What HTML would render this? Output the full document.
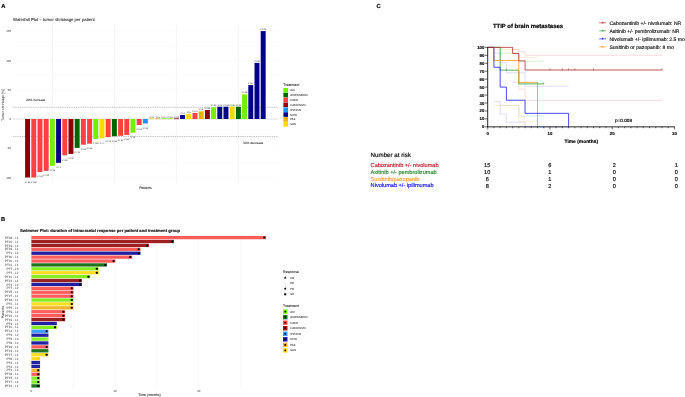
<!DOCTYPE html>
<html><head><meta charset="utf-8"><title>Figure</title>
<style>
html,body{margin:0;padding:0;background:#fff;}
body{width:685px;height:397px;overflow:hidden;font-family:"Liberation Sans", sans-serif;}
svg{display:block;will-change:transform;}
svg text{font-family:"Liberation Sans", sans-serif;text-rendering:geometricPrecision;}
</style></head>
<body>
<svg width="685" height="397" viewBox="0 0 685 397">
<rect width="685" height="397" fill="#fff"/>
<text x="1.20" y="8.10" font-size="5.8" fill="#000" stroke="#000" stroke-width="0.174" text-anchor="start" font-weight="bold" >A</text>
<text x="13.10" y="20.80" font-size="4.25" fill="#111" stroke="#111" stroke-width="0.051" text-anchor="start" font-weight="normal" >Waterfall Plot – tumor shrinkage per patient</text>
<line x1="13.0" x2="278.0" y1="31.25" y2="31.25" stroke="#f4f4f4" stroke-width="0.4"/>
<line x1="13.0" x2="278.0" y1="60.50" y2="60.50" stroke="#f4f4f4" stroke-width="0.4"/>
<line x1="13.0" x2="278.0" y1="89.75" y2="89.75" stroke="#f4f4f4" stroke-width="0.4"/>
<line x1="13.0" x2="278.0" y1="119.00" y2="119.00" stroke="#f4f4f4" stroke-width="0.4"/>
<line x1="13.0" x2="278.0" y1="148.25" y2="148.25" stroke="#f4f4f4" stroke-width="0.4"/>
<line x1="13.0" x2="278.0" y1="177.50" y2="177.50" stroke="#f4f4f4" stroke-width="0.4"/>
<line x1="13.0" x2="278.0" y1="45.88" y2="45.88" stroke="#f3f3f3" stroke-width="0.3"/>
<line x1="13.0" x2="278.0" y1="75.12" y2="75.12" stroke="#f3f3f3" stroke-width="0.3"/>
<line x1="13.0" x2="278.0" y1="104.38" y2="104.38" stroke="#f3f3f3" stroke-width="0.3"/>
<line x1="13.0" x2="278.0" y1="133.62" y2="133.62" stroke="#f3f3f3" stroke-width="0.3"/>
<line x1="13.0" x2="278.0" y1="162.88" y2="162.88" stroke="#f3f3f3" stroke-width="0.3"/>
<line x1="52.38" x2="52.38" y1="24" y2="183" stroke="#ebebeb" stroke-width="0.5"/>
<line x1="114.38" x2="114.38" y1="24" y2="183" stroke="#ebebeb" stroke-width="0.5"/>
<line x1="176.38" x2="176.38" y1="24" y2="183" stroke="#ebebeb" stroke-width="0.5"/>
<line x1="238.38" x2="238.38" y1="24" y2="183" stroke="#ebebeb" stroke-width="0.5"/>
<line x1="13.0" x2="278.0" y1="119.0" y2="119.0" stroke="#cfcfcf" stroke-width="0.6"/>
<line x1="13.0" x2="278.0" y1="107.30" y2="107.30" stroke="#555" stroke-width="0.45" stroke-dasharray="0.9 0.9"/>
<line x1="13.0" x2="278.0" y1="136.55" y2="136.55" stroke="#555" stroke-width="0.45" stroke-dasharray="0.9 0.9"/>
<rect x="25.10" y="119.00" width="4.95" height="58.50" fill="#8B0000"/>
<text x="27.58" y="182.80" font-size="2.3" fill="#444" stroke="#444" stroke-width="0.028" text-anchor="middle" font-weight="normal" >PT26</text>
<rect x="31.30" y="119.00" width="4.95" height="58.50" fill="#FF4040"/>
<text x="33.77" y="182.80" font-size="2.3" fill="#444" stroke="#444" stroke-width="0.028" text-anchor="middle" font-weight="normal" >PT28</text>
<rect x="37.50" y="119.00" width="4.95" height="53.10" fill="#FF4040"/>
<text x="39.98" y="177.40" font-size="2.3" fill="#444" stroke="#444" stroke-width="0.028" text-anchor="middle" font-weight="normal" >PT23</text>
<rect x="43.70" y="119.00" width="4.95" height="51.90" fill="#FF4040"/>
<text x="46.18" y="176.20" font-size="2.3" fill="#444" stroke="#444" stroke-width="0.028" text-anchor="middle" font-weight="normal" >PT30</text>
<rect x="49.90" y="119.00" width="4.95" height="46.80" fill="#76EE00"/>
<text x="52.38" y="171.10" font-size="2.3" fill="#444" stroke="#444" stroke-width="0.028" text-anchor="middle" font-weight="normal" >PT16</text>
<rect x="56.10" y="119.00" width="4.95" height="43.80" fill="#00008B"/>
<text x="58.58" y="168.10" font-size="2.3" fill="#444" stroke="#444" stroke-width="0.028" text-anchor="middle" font-weight="normal" >PT1</text>
<rect x="62.30" y="119.00" width="4.95" height="36.30" fill="#FF4040"/>
<text x="64.78" y="160.60" font-size="2.3" fill="#444" stroke="#444" stroke-width="0.028" text-anchor="middle" font-weight="normal" >PT29</text>
<rect x="68.50" y="119.00" width="4.95" height="34.90" fill="#8B0000"/>
<text x="70.97" y="159.20" font-size="2.3" fill="#444" stroke="#444" stroke-width="0.028" text-anchor="middle" font-weight="normal" >PT20</text>
<rect x="74.70" y="119.00" width="4.95" height="28.90" fill="#006400"/>
<text x="77.17" y="153.20" font-size="2.3" fill="#444" stroke="#444" stroke-width="0.028" text-anchor="middle" font-weight="normal" >PT11</text>
<rect x="80.90" y="119.00" width="4.95" height="25.70" fill="#FF4040"/>
<text x="83.38" y="150.00" font-size="2.3" fill="#444" stroke="#444" stroke-width="0.028" text-anchor="middle" font-weight="normal" >PT24</text>
<rect x="87.10" y="119.00" width="4.95" height="24.70" fill="#FF4040"/>
<text x="89.57" y="149.00" font-size="2.3" fill="#444" stroke="#444" stroke-width="0.028" text-anchor="middle" font-weight="normal" >PT25</text>
<rect x="93.30" y="119.00" width="4.95" height="20.10" fill="#76EE00"/>
<text x="95.78" y="144.40" font-size="2.3" fill="#444" stroke="#444" stroke-width="0.028" text-anchor="middle" font-weight="normal" >PT18</text>
<rect x="99.50" y="119.00" width="4.95" height="19.30" fill="#FFD700"/>
<text x="101.97" y="143.60" font-size="2.3" fill="#444" stroke="#444" stroke-width="0.028" text-anchor="middle" font-weight="normal" >PT7</text>
<rect x="105.70" y="119.00" width="4.95" height="18.10" fill="#FF4040"/>
<text x="108.18" y="142.40" font-size="2.3" fill="#444" stroke="#444" stroke-width="0.028" text-anchor="middle" font-weight="normal" >PT31</text>
<rect x="111.90" y="119.00" width="4.95" height="17.20" fill="#006400"/>
<text x="114.38" y="141.50" font-size="2.3" fill="#444" stroke="#444" stroke-width="0.028" text-anchor="middle" font-weight="normal" >PT13</text>
<rect x="118.10" y="119.00" width="4.95" height="16.80" fill="#FF4040"/>
<text x="120.57" y="141.10" font-size="2.3" fill="#444" stroke="#444" stroke-width="0.028" text-anchor="middle" font-weight="normal" >PT32</text>
<rect x="124.30" y="119.00" width="4.95" height="15.90" fill="#FF4040"/>
<text x="126.78" y="140.20" font-size="2.3" fill="#444" stroke="#444" stroke-width="0.028" text-anchor="middle" font-weight="normal" >PT22</text>
<rect x="130.50" y="119.00" width="4.95" height="13.70" fill="#76EE00"/>
<text x="132.97" y="138.00" font-size="2.3" fill="#444" stroke="#444" stroke-width="0.028" text-anchor="middle" font-weight="normal" >PT9</text>
<rect x="136.70" y="119.00" width="4.95" height="6.00" fill="#FF4040"/>
<text x="139.18" y="130.30" font-size="2.3" fill="#444" stroke="#444" stroke-width="0.028" text-anchor="middle" font-weight="normal" >PT33</text>
<rect x="142.90" y="119.00" width="4.95" height="4.50" fill="#1E90FF"/>
<text x="145.38" y="128.80" font-size="2.3" fill="#444" stroke="#444" stroke-width="0.028" text-anchor="middle" font-weight="normal" >PT14</text>
<rect x="149.10" y="118.40" width="4.95" height="0.70" fill="#FFD700"/>
<text x="151.57" y="117.80" font-size="2.3" fill="#444" stroke="#444" stroke-width="0.028" text-anchor="middle" font-weight="normal" >PT8</text>
<rect x="155.30" y="118.40" width="4.95" height="0.70" fill="#EEAD0E"/>
<text x="157.78" y="117.80" font-size="2.3" fill="#444" stroke="#444" stroke-width="0.028" text-anchor="middle" font-weight="normal" >PT5</text>
<rect x="161.50" y="118.40" width="4.95" height="0.70" fill="#76EE00"/>
<text x="163.97" y="117.80" font-size="2.3" fill="#444" stroke="#444" stroke-width="0.028" text-anchor="middle" font-weight="normal" >PT17</text>
<rect x="167.70" y="118.40" width="4.95" height="0.70" fill="#76EE00"/>
<text x="170.17" y="117.80" font-size="2.3" fill="#444" stroke="#444" stroke-width="0.028" text-anchor="middle" font-weight="normal" >PT15</text>
<rect x="173.90" y="118.40" width="4.95" height="0.70" fill="#8B0000"/>
<text x="176.38" y="117.80" font-size="2.3" fill="#444" stroke="#444" stroke-width="0.028" text-anchor="middle" font-weight="normal" >PT21</text>
<rect x="180.10" y="115.00" width="4.95" height="4.00" fill="#00008B"/>
<text x="182.57" y="113.80" font-size="2.3" fill="#444" stroke="#444" stroke-width="0.028" text-anchor="middle" font-weight="normal" >PT2</text>
<rect x="186.30" y="114.00" width="4.95" height="5.00" fill="#FFD700"/>
<text x="188.78" y="112.80" font-size="2.3" fill="#444" stroke="#444" stroke-width="0.028" text-anchor="middle" font-weight="normal" >PT6</text>
<rect x="192.50" y="113.00" width="4.95" height="6.00" fill="#FF4040"/>
<text x="194.97" y="111.80" font-size="2.3" fill="#444" stroke="#444" stroke-width="0.028" text-anchor="middle" font-weight="normal" >PT27</text>
<rect x="198.70" y="111.40" width="4.95" height="7.60" fill="#EEAD0E"/>
<text x="201.17" y="110.20" font-size="2.3" fill="#444" stroke="#444" stroke-width="0.028" text-anchor="middle" font-weight="normal" >PT4</text>
<rect x="204.90" y="110.00" width="4.95" height="9.00" fill="#8B0000"/>
<text x="207.38" y="108.80" font-size="2.3" fill="#444" stroke="#444" stroke-width="0.028" text-anchor="middle" font-weight="normal" >PT19</text>
<rect x="211.10" y="107.30" width="4.95" height="11.70" fill="#76EE00"/>
<text x="213.57" y="106.10" font-size="2.3" fill="#444" stroke="#444" stroke-width="0.028" text-anchor="middle" font-weight="normal" >PT10</text>
<rect x="217.30" y="106.70" width="4.95" height="12.30" fill="#00008B"/>
<text x="219.78" y="105.50" font-size="2.3" fill="#444" stroke="#444" stroke-width="0.028" text-anchor="middle" font-weight="normal" >PT3</text>
<rect x="223.50" y="106.70" width="4.95" height="12.30" fill="#00008B"/>
<text x="225.97" y="105.50" font-size="2.3" fill="#444" stroke="#444" stroke-width="0.028" text-anchor="middle" font-weight="normal" >PT34</text>
<rect x="229.70" y="106.70" width="4.95" height="12.30" fill="#FFD700"/>
<text x="232.17" y="105.50" font-size="2.3" fill="#444" stroke="#444" stroke-width="0.028" text-anchor="middle" font-weight="normal" >PT35</text>
<rect x="235.90" y="106.70" width="4.95" height="12.30" fill="#006400"/>
<text x="238.38" y="105.50" font-size="2.3" fill="#444" stroke="#444" stroke-width="0.028" text-anchor="middle" font-weight="normal" >PT12</text>
<rect x="242.10" y="94.30" width="4.95" height="24.70" fill="#76EE00"/>
<text x="244.57" y="93.10" font-size="2.3" fill="#444" stroke="#444" stroke-width="0.028" text-anchor="middle" font-weight="normal" >PT36</text>
<rect x="248.30" y="85.10" width="4.95" height="33.90" fill="#00008B"/>
<text x="250.78" y="83.90" font-size="2.3" fill="#444" stroke="#444" stroke-width="0.028" text-anchor="middle" font-weight="normal" >PT37</text>
<rect x="254.50" y="62.90" width="4.95" height="56.10" fill="#00008B"/>
<text x="256.98" y="61.70" font-size="2.3" fill="#444" stroke="#444" stroke-width="0.028" text-anchor="middle" font-weight="normal" >PT38</text>
<rect x="260.70" y="31.10" width="4.95" height="87.90" fill="#00008B"/>
<text x="263.18" y="29.90" font-size="2.3" fill="#444" stroke="#444" stroke-width="0.028" text-anchor="middle" font-weight="normal" >PT39</text>
<text x="11.00" y="32.25" font-size="2.9" fill="#4d4d4d" stroke="#4d4d4d" stroke-width="0.035" text-anchor="end" font-weight="normal" >150</text>
<text x="11.00" y="61.50" font-size="2.9" fill="#4d4d4d" stroke="#4d4d4d" stroke-width="0.035" text-anchor="end" font-weight="normal" >100</text>
<text x="11.00" y="90.75" font-size="2.9" fill="#4d4d4d" stroke="#4d4d4d" stroke-width="0.035" text-anchor="end" font-weight="normal" >50</text>
<text x="11.00" y="120.00" font-size="2.9" fill="#4d4d4d" stroke="#4d4d4d" stroke-width="0.035" text-anchor="end" font-weight="normal" >0</text>
<text x="11.00" y="149.25" font-size="2.9" fill="#4d4d4d" stroke="#4d4d4d" stroke-width="0.035" text-anchor="end" font-weight="normal" >-50</text>
<text x="11.00" y="178.50" font-size="2.9" fill="#4d4d4d" stroke="#4d4d4d" stroke-width="0.035" text-anchor="end" font-weight="normal" >-100</text>
<text transform="translate(4.3,105) rotate(-90)" font-size="3.5" fill="#222" text-anchor="middle">Tumor shrinkage [%]</text>
<text x="145.50" y="188.70" font-size="3.5" fill="#222" stroke="#222" stroke-width="0.042" text-anchor="middle" font-weight="normal" >Patients</text>
<text x="26.00" y="101.20" font-size="3.2" fill="#222" stroke="#222" stroke-width="0.038" text-anchor="start" font-weight="normal" >20% increase</text>
<text x="243.00" y="144.30" font-size="3.2" fill="#222" stroke="#222" stroke-width="0.038" text-anchor="start" font-weight="normal" >30% decrease</text>
<text x="283.30" y="85.60" font-size="3.5" fill="#111" stroke="#111" stroke-width="0.042" text-anchor="start" font-weight="normal" >Treatment</text>
<rect x="283.4" y="88.00" width="4.6" height="4.6" fill="#76EE00"/>
<text x="290.20" y="91.30" font-size="2.8" fill="#222" stroke="#222" stroke-width="0.034" text-anchor="start" font-weight="normal" >AXI</text>
<rect x="283.4" y="92.85" width="4.6" height="4.6" fill="#006400"/>
<text x="290.20" y="96.15" font-size="2.8" fill="#222" stroke="#222" stroke-width="0.034" text-anchor="start" font-weight="normal" >AXI/PEMBRO</text>
<rect x="283.4" y="97.70" width="4.6" height="4.6" fill="#FF4040"/>
<text x="290.20" y="101.00" font-size="2.8" fill="#222" stroke="#222" stroke-width="0.034" text-anchor="start" font-weight="normal" >CABO</text>
<rect x="283.4" y="102.55" width="4.6" height="4.6" fill="#8B0000"/>
<text x="290.20" y="105.85" font-size="2.8" fill="#222" stroke="#222" stroke-width="0.034" text-anchor="start" font-weight="normal" >CABO/NIVO</text>
<rect x="283.4" y="107.40" width="4.6" height="4.6" fill="#1E90FF"/>
<text x="290.20" y="110.70" font-size="2.8" fill="#222" stroke="#222" stroke-width="0.034" text-anchor="start" font-weight="normal" >IPI/NIVO</text>
<rect x="283.4" y="112.25" width="4.6" height="4.6" fill="#00008B"/>
<text x="290.20" y="115.55" font-size="2.8" fill="#222" stroke="#222" stroke-width="0.034" text-anchor="start" font-weight="normal" >NIVO</text>
<rect x="283.4" y="117.10" width="4.6" height="4.6" fill="#EEAD0E"/>
<text x="290.20" y="120.40" font-size="2.8" fill="#222" stroke="#222" stroke-width="0.034" text-anchor="start" font-weight="normal" >PAZ</text>
<rect x="283.4" y="121.95" width="4.6" height="4.6" fill="#FFD700"/>
<text x="290.20" y="125.25" font-size="2.8" fill="#222" stroke="#222" stroke-width="0.034" text-anchor="start" font-weight="normal" >SUN</text>
<text x="0.90" y="221.10" font-size="5.8" fill="#000" stroke="#000" stroke-width="0.174" text-anchor="start" font-weight="bold" >B</text>
<text x="20.00" y="232.20" font-size="4.2" fill="#111" stroke="#111" stroke-width="0.126" text-anchor="start" font-weight="bold" >Swimmer Plot: duration of intracranial response per patient and treatment group</text>
<line x1="31.40" x2="31.40" y1="234.5" y2="389" stroke="#ebebeb" stroke-width="0.45"/>
<line x1="73.25" x2="73.25" y1="234.5" y2="389" stroke="#ebebeb" stroke-width="0.45"/>
<line x1="115.10" x2="115.10" y1="234.5" y2="389" stroke="#ebebeb" stroke-width="0.45"/>
<line x1="156.95" x2="156.95" y1="234.5" y2="389" stroke="#ebebeb" stroke-width="0.45"/>
<line x1="198.80" x2="198.80" y1="234.5" y2="389" stroke="#ebebeb" stroke-width="0.45"/>
<line x1="240.65" x2="240.65" y1="234.5" y2="389" stroke="#ebebeb" stroke-width="0.45"/>
<rect x="31.40" y="235.95" width="234.66" height="3.3" fill="#FF5c5c"/>
<rect x="263.26" y="236.60" width="2.0" height="2.0" rx="0.5" fill="#000"/>
<text x="18.40" y="238.70" font-size="3.1" fill="#555" stroke="#555" stroke-width="0.037" text-anchor="end" font-weight="normal" >PT28 - L1</text>
<rect x="31.40" y="239.85" width="142.59" height="3.3" fill="#9c2020"/>
<rect x="171.19" y="240.50" width="2.0" height="2.0" rx="0.5" fill="#000"/>
<text x="18.40" y="242.60" font-size="3.1" fill="#555" stroke="#555" stroke-width="0.037" text-anchor="end" font-weight="normal" >PT20 - L1</text>
<rect x="31.40" y="243.76" width="117.48" height="3.3" fill="#9c2020"/>
<rect x="146.08" y="244.41" width="2.0" height="2.0" rx="0.5" fill="#000"/>
<text x="18.40" y="246.51" font-size="3.1" fill="#555" stroke="#555" stroke-width="0.037" text-anchor="end" font-weight="normal" >PT19 - L2</text>
<rect x="31.40" y="247.66" width="109.11" height="3.3" fill="#FF5c5c"/>
<rect x="137.71" y="248.31" width="2.0" height="2.0" rx="0.5" fill="#000"/>
<text x="18.40" y="250.41" font-size="3.1" fill="#555" stroke="#555" stroke-width="0.037" text-anchor="end" font-weight="normal" >PT23 - L1</text>
<rect x="31.40" y="251.56" width="109.11" height="3.3" fill="#2020a0"/>
<rect x="137.71" y="252.21" width="2.0" height="2.0" rx="0.5" fill="#000"/>
<text x="18.40" y="254.31" font-size="3.1" fill="#555" stroke="#555" stroke-width="0.037" text-anchor="end" font-weight="normal" >PT1 - L2</text>
<rect x="31.40" y="255.47" width="100.74" height="3.3" fill="#FF5c5c"/>
<rect x="129.34" y="256.12" width="2.0" height="2.0" rx="0.5" fill="#000"/>
<text x="18.40" y="258.22" font-size="3.1" fill="#555" stroke="#555" stroke-width="0.037" text-anchor="end" font-weight="normal" >PT30 - L1</text>
<rect x="31.40" y="259.37" width="84.00" height="3.3" fill="#FF5c5c"/>
<rect x="112.60" y="260.02" width="2.0" height="2.0" rx="0.5" fill="#000"/>
<text x="18.40" y="262.12" font-size="3.1" fill="#555" stroke="#555" stroke-width="0.037" text-anchor="end" font-weight="normal" >PT26 - L1</text>
<rect x="31.40" y="263.27" width="75.63" height="3.3" fill="#1f7320"/>
<rect x="104.23" y="263.92" width="2.0" height="2.0" rx="0.5" fill="#000"/>
<text x="18.40" y="266.02" font-size="3.1" fill="#555" stroke="#555" stroke-width="0.037" text-anchor="end" font-weight="normal" >PT11 - L1</text>
<rect x="31.40" y="267.17" width="67.26" height="3.3" fill="#84EE22"/>
<rect x="95.86" y="267.82" width="2.0" height="2.0" rx="0.5" fill="#000"/>
<text x="18.40" y="269.92" font-size="3.1" fill="#555" stroke="#555" stroke-width="0.037" text-anchor="end" font-weight="normal" >PT7 - L3</text>
<rect x="31.40" y="271.08" width="67.26" height="3.3" fill="#ffdc22"/>
<rect x="95.86" y="271.73" width="2.0" height="2.0" rx="0.5" fill="#000"/>
<text x="18.40" y="273.83" font-size="3.1" fill="#555" stroke="#555" stroke-width="0.037" text-anchor="end" font-weight="normal" >PT7 - L2</text>
<rect x="31.40" y="274.98" width="58.89" height="3.3" fill="#84EE22"/>
<rect x="87.49" y="275.63" width="2.0" height="2.0" rx="0.5" fill="#000"/>
<text x="18.40" y="277.73" font-size="3.1" fill="#555" stroke="#555" stroke-width="0.037" text-anchor="end" font-weight="normal" >PT16 - L1</text>
<rect x="31.40" y="278.88" width="50.52" height="3.3" fill="#9c2020"/>
<rect x="79.12" y="279.53" width="2.0" height="2.0" rx="0.5" fill="#000"/>
<text x="18.40" y="281.63" font-size="3.1" fill="#555" stroke="#555" stroke-width="0.037" text-anchor="end" font-weight="normal" >PT21 - L1</text>
<rect x="31.40" y="282.79" width="50.52" height="3.3" fill="#2020a0"/>
<rect x="79.12" y="283.44" width="2.0" height="2.0" rx="0.5" fill="#000"/>
<text x="18.40" y="285.54" font-size="3.1" fill="#555" stroke="#555" stroke-width="0.037" text-anchor="end" font-weight="normal" >PT2 - L2</text>
<rect x="31.40" y="286.69" width="42.15" height="3.3" fill="#FF5c5c"/>
<rect x="70.75" y="287.34" width="2.0" height="2.0" rx="0.5" fill="#000"/>
<text x="18.40" y="289.44" font-size="3.1" fill="#555" stroke="#555" stroke-width="0.037" text-anchor="end" font-weight="normal" >PT7 - L2</text>
<rect x="31.40" y="290.59" width="42.15" height="3.3" fill="#FF5c5c"/>
<rect x="70.75" y="291.24" width="2.0" height="2.0" rx="0.5" fill="#000"/>
<text x="18.40" y="293.34" font-size="3.1" fill="#555" stroke="#555" stroke-width="0.037" text-anchor="end" font-weight="normal" >PT25 - L1</text>
<rect x="31.40" y="294.50" width="42.15" height="3.3" fill="#FF5c5c"/>
<rect x="70.75" y="295.14" width="2.0" height="2.0" rx="0.5" fill="#000"/>
<text x="18.40" y="297.25" font-size="3.1" fill="#555" stroke="#555" stroke-width="0.037" text-anchor="end" font-weight="normal" >PT27 - L1</text>
<rect x="31.40" y="298.40" width="42.15" height="3.3" fill="#84EE22"/>
<rect x="70.75" y="299.05" width="2.0" height="2.0" rx="0.5" fill="#000"/>
<text x="18.40" y="301.15" font-size="3.1" fill="#555" stroke="#555" stroke-width="0.037" text-anchor="end" font-weight="normal" >PT18 - L1</text>
<rect x="31.40" y="302.30" width="42.15" height="3.3" fill="#ffdc22"/>
<rect x="70.75" y="302.95" width="2.0" height="2.0" rx="0.5" fill="#000"/>
<text x="18.40" y="305.05" font-size="3.1" fill="#555" stroke="#555" stroke-width="0.037" text-anchor="end" font-weight="normal" >PT6 - L1</text>
<rect x="31.40" y="306.20" width="42.15" height="3.3" fill="#f0b52c"/>
<rect x="70.75" y="306.85" width="2.0" height="2.0" rx="0.5" fill="#000"/>
<text x="18.40" y="308.95" font-size="3.1" fill="#555" stroke="#555" stroke-width="0.037" text-anchor="end" font-weight="normal" >PT5 - L1</text>
<rect x="31.40" y="310.11" width="33.78" height="3.3" fill="#FF5c5c"/>
<rect x="62.38" y="310.76" width="2.0" height="2.0" rx="0.5" fill="#000"/>
<text x="18.40" y="312.86" font-size="3.1" fill="#555" stroke="#555" stroke-width="0.037" text-anchor="end" font-weight="normal" >PT9 - L2</text>
<rect x="31.40" y="314.01" width="33.78" height="3.3" fill="#FF5c5c"/>
<rect x="62.38" y="314.66" width="2.0" height="2.0" rx="0.5" fill="#000"/>
<text x="18.40" y="316.76" font-size="3.1" fill="#555" stroke="#555" stroke-width="0.037" text-anchor="end" font-weight="normal" >PT22 - L1</text>
<rect x="31.40" y="317.91" width="33.78" height="3.3" fill="#9c2020"/>
<rect x="62.38" y="318.56" width="2.0" height="2.0" rx="0.5" fill="#000"/>
<text x="18.40" y="320.66" font-size="3.1" fill="#555" stroke="#555" stroke-width="0.037" text-anchor="end" font-weight="normal" >PT19 - L1</text>
<rect x="31.40" y="321.82" width="25.41" height="3.3" fill="#2020a0"/>
<path d="M54.11 322.57 L55.91 324.37 M54.11 324.37 L55.91 322.57" stroke="#4a4ab4" stroke-width="0.4" fill="none"/>
<text x="18.40" y="324.57" font-size="3.1" fill="#555" stroke="#555" stroke-width="0.037" text-anchor="end" font-weight="normal" >PT3 - L1</text>
<rect x="31.40" y="325.72" width="25.41" height="3.3" fill="#84EE22"/>
<rect x="54.01" y="326.37" width="2.0" height="2.0" rx="0.5" fill="#000"/>
<text x="18.40" y="328.47" font-size="3.1" fill="#555" stroke="#555" stroke-width="0.037" text-anchor="end" font-weight="normal" >PT10 - L1</text>
<rect x="31.40" y="329.62" width="17.04" height="3.3" fill="#3c9cff"/>
<rect x="45.64" y="330.27" width="2.0" height="2.0" rx="0.5" fill="#000"/>
<text x="18.40" y="332.37" font-size="3.1" fill="#555" stroke="#555" stroke-width="0.037" text-anchor="end" font-weight="normal" >PT14 - L1</text>
<rect x="31.40" y="333.53" width="17.04" height="3.3" fill="#2020a0"/>
<path d="M45.74 334.28 L47.54 336.07 M45.74 336.07 L47.54 334.28" stroke="#4a4ab4" stroke-width="0.4" fill="none"/>
<text x="18.40" y="336.28" font-size="3.1" fill="#555" stroke="#555" stroke-width="0.037" text-anchor="end" font-weight="normal" >PT3 - L2</text>
<rect x="31.40" y="337.43" width="17.04" height="3.3" fill="#84EE22"/>
<path d="M45.74 338.18 L47.54 339.98 M45.74 339.98 L47.54 338.18" stroke="#c8eaa0" stroke-width="0.4" fill="none"/>
<text x="18.40" y="340.18" font-size="3.1" fill="#555" stroke="#555" stroke-width="0.037" text-anchor="end" font-weight="normal" >PT9 - L3</text>
<rect x="31.40" y="341.33" width="17.04" height="3.3" fill="#2020a0"/>
<path d="M45.74 342.08 L47.54 343.88 M45.74 343.88 L47.54 342.08" stroke="#4a4ab4" stroke-width="0.4" fill="none"/>
<text x="18.40" y="344.08" font-size="3.1" fill="#555" stroke="#555" stroke-width="0.037" text-anchor="end" font-weight="normal" >PT8 - L2</text>
<rect x="31.40" y="345.23" width="17.04" height="3.3" fill="#FF5c5c"/>
<rect x="45.64" y="345.88" width="2.0" height="2.0" rx="0.5" fill="#000"/>
<text x="18.40" y="347.98" font-size="3.1" fill="#555" stroke="#555" stroke-width="0.037" text-anchor="end" font-weight="normal" >PT29 - L1</text>
<rect x="31.40" y="349.14" width="17.04" height="3.3" fill="#1f7320"/>
<path d="M45.74 349.89 L47.54 351.69 M45.74 351.69 L47.54 349.89" stroke="#4a8c4a" stroke-width="0.4" fill="none"/>
<text x="18.40" y="351.89" font-size="3.1" fill="#555" stroke="#555" stroke-width="0.037" text-anchor="end" font-weight="normal" >PT13 - L1</text>
<rect x="31.40" y="353.04" width="17.04" height="3.3" fill="#ffdc22"/>
<rect x="45.64" y="353.69" width="2.0" height="2.0" rx="0.5" fill="#000"/>
<text x="18.40" y="355.79" font-size="3.1" fill="#555" stroke="#555" stroke-width="0.037" text-anchor="end" font-weight="normal" >PT17 - L1</text>
<rect x="31.40" y="356.94" width="8.67" height="3.3" fill="#ffdc22"/>
<path d="M37.37 357.69 L39.17 359.49 M37.37 359.49 L39.17 357.69" stroke="#c8a800" stroke-width="0.4" fill="none"/>
<text x="18.40" y="359.69" font-size="3.1" fill="#555" stroke="#555" stroke-width="0.037" text-anchor="end" font-weight="normal" >PT8 - L1</text>
<rect x="31.40" y="360.85" width="8.67" height="3.3" fill="#2020a0"/>
<path d="M37.37 361.60 L39.17 363.40 M37.37 363.40 L39.17 361.60" stroke="#4a4ab4" stroke-width="0.4" fill="none"/>
<text x="18.40" y="363.60" font-size="3.1" fill="#555" stroke="#555" stroke-width="0.037" text-anchor="end" font-weight="normal" >PT2 - L1</text>
<rect x="31.40" y="364.75" width="8.67" height="3.3" fill="#2020a0"/>
<path d="M37.37 365.50 L39.17 367.30 M37.37 367.30 L39.17 365.50" stroke="#4a4ab4" stroke-width="0.4" fill="none"/>
<text x="18.40" y="367.50" font-size="3.1" fill="#555" stroke="#555" stroke-width="0.037" text-anchor="end" font-weight="normal" >PT4 - L1</text>
<rect x="31.40" y="368.65" width="8.67" height="3.3" fill="#f0b52c"/>
<rect x="37.27" y="369.30" width="2.0" height="2.0" rx="0.5" fill="#000"/>
<text x="18.40" y="371.40" font-size="3.1" fill="#555" stroke="#555" stroke-width="0.037" text-anchor="end" font-weight="normal" >PT4 - L2</text>
<rect x="31.40" y="372.56" width="8.67" height="3.3" fill="#FF5c5c"/>
<rect x="37.27" y="373.20" width="2.0" height="2.0" rx="0.5" fill="#000"/>
<text x="18.40" y="375.31" font-size="3.1" fill="#555" stroke="#555" stroke-width="0.037" text-anchor="end" font-weight="normal" >PT32 - L1</text>
<rect x="31.40" y="376.46" width="8.67" height="3.3" fill="#84EE22"/>
<rect x="37.27" y="377.11" width="2.0" height="2.0" rx="0.5" fill="#000"/>
<text x="18.40" y="379.21" font-size="3.1" fill="#555" stroke="#555" stroke-width="0.037" text-anchor="end" font-weight="normal" >PT15 - L1</text>
<rect x="31.40" y="380.36" width="8.67" height="3.3" fill="#84EE22"/>
<rect x="37.27" y="381.01" width="2.0" height="2.0" rx="0.5" fill="#000"/>
<text x="18.40" y="383.11" font-size="3.1" fill="#555" stroke="#555" stroke-width="0.037" text-anchor="end" font-weight="normal" >PT17 - L2</text>
<rect x="31.40" y="384.26" width="8.67" height="3.3" fill="#1f7320"/>
<rect x="37.27" y="384.91" width="2.0" height="2.0" rx="0.5" fill="#000"/>
<text x="18.40" y="387.01" font-size="3.1" fill="#555" stroke="#555" stroke-width="0.037" text-anchor="end" font-weight="normal" >PT12 - L1</text>
<text x="31.40" y="392.00" font-size="2.9" fill="#4d4d4d" stroke="#4d4d4d" stroke-width="0.035" text-anchor="middle" font-weight="normal" >0</text>
<text x="115.10" y="392.00" font-size="2.9" fill="#4d4d4d" stroke="#4d4d4d" stroke-width="0.035" text-anchor="middle" font-weight="normal" >10</text>
<text x="198.80" y="392.00" font-size="2.9" fill="#4d4d4d" stroke="#4d4d4d" stroke-width="0.035" text-anchor="middle" font-weight="normal" >20</text>
<text x="149.50" y="395.80" font-size="3.5" fill="#222" stroke="#222" stroke-width="0.042" text-anchor="middle" font-weight="normal" >Time (months)</text>
<text transform="translate(4.2,312) rotate(-90)" font-size="3.5" fill="#222" text-anchor="middle">Patients</text>
<text x="283.10" y="272.80" font-size="3.5" fill="#111" stroke="#111" stroke-width="0.042" text-anchor="start" font-weight="normal" >Response</text>
<path d="M285.2 276.3 L286.5 278.6 L283.9 278.6 Z" fill="#000"/>
<path d="M284.4 282.4 L286 284.0 M284.4 284.0 L286 282.4" stroke="#ccc" stroke-width="0.35"/>
<path d="M285.2 287.3 L286.4 288.7 L285.2 290.09999999999997 L284.0 288.7 Z" fill="#000"/>
<rect x="284.2" y="293.3" width="2" height="2" fill="#000"/>
<text x="290.20" y="278.60" font-size="2.8" fill="#222" stroke="#222" stroke-width="0.034" text-anchor="start" font-weight="normal" >CR</text>
<text x="290.20" y="284.20" font-size="2.8" fill="#222" stroke="#222" stroke-width="0.034" text-anchor="start" font-weight="normal" >PD</text>
<text x="290.20" y="289.70" font-size="2.8" fill="#222" stroke="#222" stroke-width="0.034" text-anchor="start" font-weight="normal" >PR</text>
<text x="290.20" y="295.30" font-size="2.8" fill="#222" stroke="#222" stroke-width="0.034" text-anchor="start" font-weight="normal" >SD</text>
<text x="283.10" y="307.00" font-size="3.5" fill="#111" stroke="#111" stroke-width="0.042" text-anchor="start" font-weight="normal" >Treatment</text>
<rect x="283.0" y="309.35" width="4.5" height="4.5" fill="#84EE22"/>
<rect x="284.4" y="310.75" width="1.7" height="1.7" rx="0.4" fill="#000"/>
<text x="290.20" y="312.60" font-size="2.8" fill="#222" stroke="#222" stroke-width="0.034" text-anchor="start" font-weight="normal" >AXI</text>
<rect x="283.0" y="314.89" width="4.5" height="4.5" fill="#1f7320"/>
<rect x="284.4" y="316.29" width="1.7" height="1.7" rx="0.4" fill="#000"/>
<text x="290.20" y="318.14" font-size="2.8" fill="#222" stroke="#222" stroke-width="0.034" text-anchor="start" font-weight="normal" >AXI/PEMBRO</text>
<rect x="283.0" y="320.43" width="4.5" height="4.5" fill="#FF5c5c"/>
<rect x="284.4" y="321.83" width="1.7" height="1.7" rx="0.4" fill="#000"/>
<text x="290.20" y="323.68" font-size="2.8" fill="#222" stroke="#222" stroke-width="0.034" text-anchor="start" font-weight="normal" >CABO</text>
<rect x="283.0" y="325.97" width="4.5" height="4.5" fill="#9c2020"/>
<rect x="284.4" y="327.37" width="1.7" height="1.7" rx="0.4" fill="#000"/>
<text x="290.20" y="329.22" font-size="2.8" fill="#222" stroke="#222" stroke-width="0.034" text-anchor="start" font-weight="normal" >CABO/NIVO</text>
<rect x="283.0" y="331.51" width="4.5" height="4.5" fill="#3c9cff"/>
<rect x="284.4" y="332.91" width="1.7" height="1.7" rx="0.4" fill="#000"/>
<text x="290.20" y="334.76" font-size="2.8" fill="#222" stroke="#222" stroke-width="0.034" text-anchor="start" font-weight="normal" >IPI/NIVO</text>
<rect x="283.0" y="337.05" width="4.5" height="4.5" fill="#2020a0"/>
<rect x="284.4" y="338.45" width="1.7" height="1.7" rx="0.4" fill="#000"/>
<text x="290.20" y="340.30" font-size="2.8" fill="#222" stroke="#222" stroke-width="0.034" text-anchor="start" font-weight="normal" >NIVO</text>
<rect x="283.0" y="342.59" width="4.5" height="4.5" fill="#f0b52c"/>
<rect x="284.4" y="343.99" width="1.7" height="1.7" rx="0.4" fill="#000"/>
<text x="290.20" y="345.84" font-size="2.8" fill="#222" stroke="#222" stroke-width="0.034" text-anchor="start" font-weight="normal" >PAZ</text>
<rect x="283.0" y="348.13" width="4.5" height="4.5" fill="#ffdc22"/>
<rect x="284.4" y="349.53" width="1.7" height="1.7" rx="0.4" fill="#000"/>
<text x="290.20" y="351.38" font-size="2.8" fill="#222" stroke="#222" stroke-width="0.034" text-anchor="start" font-weight="normal" >SUN</text>
<text x="376.50" y="7.70" font-size="5.8" fill="#000" stroke="#000" stroke-width="0.174" text-anchor="start" font-weight="bold" >C</text>
<text x="528.00" y="27.60" font-size="5.94" fill="#000" stroke="#000" stroke-width="0.178" text-anchor="middle" font-weight="bold" >TTIP of brain metastases</text>
<path d="M512.60 49.34 H518.83 V51.72 H525.05 V55.30 H662.00" stroke="#f0b0b0" stroke-width="0.45" fill="none"/>
<path d="M512.60 82.33 H518.83 V89.09 H525.05 V100.38 H662.00" stroke="#f0b0b0" stroke-width="0.45" fill="none"/>
<path d="M500.15 53.31 H518.83 V61.26 H543.73" stroke="#a8dca8" stroke-width="0.45" fill="none"/>
<path d="M500.15 105.38 H518.83 V116.12 H543.73" stroke="#a8dca8" stroke-width="0.45" fill="none"/>
<path d="M493.93 52.91 H500.15 V62.45 H506.38 V72.79 H525.05 V86.30 H568.62" stroke="#b4b4f4" stroke-width="0.45" fill="none"/>
<path d="M493.93 101.41 H500.15 V114.13 H506.38 V122.24 H525.05 V126.85 H568.62" stroke="#b4b4f4" stroke-width="0.45" fill="none"/>
<path d="M493.93 49.34 H518.83 V57.29 H537.50" stroke="#ffd2a0" stroke-width="0.45" fill="none"/>
<path d="M493.93 105.38 H518.83 V121.28 H537.50" stroke="#ffd2a0" stroke-width="0.45" fill="none"/>
<path d="M487.70 47.35 H500.15 V70.17 H518.83 V83.92 H543.73" stroke="#2ca02c" stroke-width="0.8" fill="none" stroke-linejoin="miter"/>
<line x1="506.38" x2="506.38" y1="68.67" y2="70.37" stroke="#2ca02c" stroke-width="0.65"/>
<line x1="537.50" x2="537.50" y1="82.42" y2="84.12" stroke="#2ca02c" stroke-width="0.65"/>
<line x1="543.73" x2="543.73" y1="82.42" y2="84.12" stroke="#2ca02c" stroke-width="0.65"/>
<path d="M487.70 47.35 H493.93 V60.47 H518.83 V82.33 H537.50 V126.85 H537.50" stroke="#ff9522" stroke-width="0.8" fill="none" stroke-linejoin="miter"/>
<path d="M487.70 47.35 H493.93 V67.22 H500.15 V87.10 H506.38 V100.22 H525.05 V113.33 H568.62 V126.85 H568.62" stroke="#1c1ce0" stroke-width="0.8" fill="none" stroke-linejoin="miter"/>
<path d="M487.70 47.35 H512.60 V53.47 H518.83 V60.86 H525.05 V70.01 H662.00" stroke="#b22a2a" stroke-width="0.8" fill="none" stroke-linejoin="miter"/>
<line x1="549.95" x2="549.95" y1="68.51" y2="70.21" stroke="#b22a2a" stroke-width="0.65"/>
<line x1="562.40" x2="562.40" y1="68.51" y2="70.21" stroke="#b22a2a" stroke-width="0.65"/>
<line x1="568.62" x2="568.62" y1="68.51" y2="70.21" stroke="#b22a2a" stroke-width="0.65"/>
<line x1="574.85" x2="574.85" y1="68.51" y2="70.21" stroke="#b22a2a" stroke-width="0.65"/>
<line x1="593.52" x2="593.52" y1="68.51" y2="70.21" stroke="#b22a2a" stroke-width="0.65"/>
<line x1="662.00" x2="662.00" y1="68.51" y2="70.21" stroke="#b22a2a" stroke-width="0.65"/>
<line x1="487.7" x2="487.7" y1="47.05" y2="127.25" stroke="#000" stroke-width="0.85"/>
<line x1="487.34999999999997" x2="674.75" y1="126.85" y2="126.85" stroke="#000" stroke-width="0.85"/>
<line x1="484.9" x2="487.7" y1="126.85" y2="126.85" stroke="#000" stroke-width="0.6"/>
<text x="484.40" y="128.35" font-size="4.3" fill="#000" stroke="#000" stroke-width="0.129" text-anchor="end" font-weight="bold" >0</text>
<line x1="484.9" x2="487.7" y1="118.90" y2="118.90" stroke="#000" stroke-width="0.6"/>
<text x="484.40" y="120.40" font-size="4.3" fill="#000" stroke="#000" stroke-width="0.129" text-anchor="end" font-weight="bold" >10</text>
<line x1="484.9" x2="487.7" y1="110.95" y2="110.95" stroke="#000" stroke-width="0.6"/>
<text x="484.40" y="112.45" font-size="4.3" fill="#000" stroke="#000" stroke-width="0.129" text-anchor="end" font-weight="bold" >20</text>
<line x1="484.9" x2="487.7" y1="103.00" y2="103.00" stroke="#000" stroke-width="0.6"/>
<text x="484.40" y="104.50" font-size="4.3" fill="#000" stroke="#000" stroke-width="0.129" text-anchor="end" font-weight="bold" >30</text>
<line x1="484.9" x2="487.7" y1="95.05" y2="95.05" stroke="#000" stroke-width="0.6"/>
<text x="484.40" y="96.55" font-size="4.3" fill="#000" stroke="#000" stroke-width="0.129" text-anchor="end" font-weight="bold" >40</text>
<line x1="484.9" x2="487.7" y1="87.10" y2="87.10" stroke="#000" stroke-width="0.6"/>
<text x="484.40" y="88.60" font-size="4.3" fill="#000" stroke="#000" stroke-width="0.129" text-anchor="end" font-weight="bold" >50</text>
<line x1="484.9" x2="487.7" y1="79.15" y2="79.15" stroke="#000" stroke-width="0.6"/>
<text x="484.40" y="80.65" font-size="4.3" fill="#000" stroke="#000" stroke-width="0.129" text-anchor="end" font-weight="bold" >60</text>
<line x1="484.9" x2="487.7" y1="71.20" y2="71.20" stroke="#000" stroke-width="0.6"/>
<text x="484.40" y="72.70" font-size="4.3" fill="#000" stroke="#000" stroke-width="0.129" text-anchor="end" font-weight="bold" >70</text>
<line x1="484.9" x2="487.7" y1="63.25" y2="63.25" stroke="#000" stroke-width="0.6"/>
<text x="484.40" y="64.75" font-size="4.3" fill="#000" stroke="#000" stroke-width="0.129" text-anchor="end" font-weight="bold" >80</text>
<line x1="484.9" x2="487.7" y1="55.30" y2="55.30" stroke="#000" stroke-width="0.6"/>
<text x="484.40" y="56.80" font-size="4.3" fill="#000" stroke="#000" stroke-width="0.129" text-anchor="end" font-weight="bold" >90</text>
<line x1="484.9" x2="487.7" y1="47.35" y2="47.35" stroke="#000" stroke-width="0.6"/>
<text x="484.40" y="48.85" font-size="4.3" fill="#000" stroke="#000" stroke-width="0.129" text-anchor="end" font-weight="bold" >100</text>
<line x1="487.70" x2="487.70" y1="126.85" y2="129.45" stroke="#000" stroke-width="0.6"/>
<line x1="493.93" x2="493.93" y1="126.85" y2="128.25" stroke="#000" stroke-width="0.6"/>
<line x1="500.15" x2="500.15" y1="126.85" y2="128.25" stroke="#000" stroke-width="0.6"/>
<line x1="506.38" x2="506.38" y1="126.85" y2="128.25" stroke="#000" stroke-width="0.6"/>
<line x1="512.60" x2="512.60" y1="126.85" y2="128.25" stroke="#000" stroke-width="0.6"/>
<line x1="518.83" x2="518.83" y1="126.85" y2="128.25" stroke="#000" stroke-width="0.6"/>
<line x1="525.05" x2="525.05" y1="126.85" y2="128.25" stroke="#000" stroke-width="0.6"/>
<line x1="531.27" x2="531.27" y1="126.85" y2="128.25" stroke="#000" stroke-width="0.6"/>
<line x1="537.50" x2="537.50" y1="126.85" y2="128.25" stroke="#000" stroke-width="0.6"/>
<line x1="543.73" x2="543.73" y1="126.85" y2="128.25" stroke="#000" stroke-width="0.6"/>
<line x1="549.95" x2="549.95" y1="126.85" y2="129.45" stroke="#000" stroke-width="0.6"/>
<line x1="556.17" x2="556.17" y1="126.85" y2="128.25" stroke="#000" stroke-width="0.6"/>
<line x1="562.40" x2="562.40" y1="126.85" y2="128.25" stroke="#000" stroke-width="0.6"/>
<line x1="568.62" x2="568.62" y1="126.85" y2="128.25" stroke="#000" stroke-width="0.6"/>
<line x1="574.85" x2="574.85" y1="126.85" y2="128.25" stroke="#000" stroke-width="0.6"/>
<line x1="581.08" x2="581.08" y1="126.85" y2="128.25" stroke="#000" stroke-width="0.6"/>
<line x1="587.30" x2="587.30" y1="126.85" y2="128.25" stroke="#000" stroke-width="0.6"/>
<line x1="593.52" x2="593.52" y1="126.85" y2="128.25" stroke="#000" stroke-width="0.6"/>
<line x1="599.75" x2="599.75" y1="126.85" y2="128.25" stroke="#000" stroke-width="0.6"/>
<line x1="605.98" x2="605.98" y1="126.85" y2="128.25" stroke="#000" stroke-width="0.6"/>
<line x1="612.20" x2="612.20" y1="126.85" y2="129.45" stroke="#000" stroke-width="0.6"/>
<line x1="618.42" x2="618.42" y1="126.85" y2="128.25" stroke="#000" stroke-width="0.6"/>
<line x1="624.65" x2="624.65" y1="126.85" y2="128.25" stroke="#000" stroke-width="0.6"/>
<line x1="630.88" x2="630.88" y1="126.85" y2="128.25" stroke="#000" stroke-width="0.6"/>
<line x1="637.10" x2="637.10" y1="126.85" y2="128.25" stroke="#000" stroke-width="0.6"/>
<line x1="643.33" x2="643.33" y1="126.85" y2="128.25" stroke="#000" stroke-width="0.6"/>
<line x1="649.55" x2="649.55" y1="126.85" y2="128.25" stroke="#000" stroke-width="0.6"/>
<line x1="655.77" x2="655.77" y1="126.85" y2="128.25" stroke="#000" stroke-width="0.6"/>
<line x1="662.00" x2="662.00" y1="126.85" y2="128.25" stroke="#000" stroke-width="0.6"/>
<line x1="668.22" x2="668.22" y1="126.85" y2="128.25" stroke="#000" stroke-width="0.6"/>
<line x1="674.45" x2="674.45" y1="126.85" y2="129.45" stroke="#000" stroke-width="0.6"/>
<text x="487.70" y="135.00" font-size="4.3" fill="#000" stroke="#000" stroke-width="0.129" text-anchor="middle" font-weight="bold" >0</text>
<text x="549.95" y="135.00" font-size="4.3" fill="#000" stroke="#000" stroke-width="0.129" text-anchor="middle" font-weight="bold" >10</text>
<text x="612.20" y="135.00" font-size="4.3" fill="#000" stroke="#000" stroke-width="0.129" text-anchor="middle" font-weight="bold" >20</text>
<text x="674.45" y="135.00" font-size="4.3" fill="#000" stroke="#000" stroke-width="0.129" text-anchor="middle" font-weight="bold" >30</text>
<text x="581.30" y="142.60" font-size="4.9" fill="#000" stroke="#000" stroke-width="0.147" text-anchor="middle" font-weight="bold" >Time (months)</text>
<text x="615.00" y="121.90" font-size="4.7" fill="#000" stroke="#000" stroke-width="0.141" text-anchor="start" font-weight="normal" >p=0.008</text>
<line x1="599.2" x2="606.0" y1="22.80" y2="22.80" stroke="#b22a2a" stroke-width="0.65"/>
<path d="M602.6 21.40 L603.7 23.15 L601.5 23.15 Z" fill="#b22a2a"/>
<text x="609.40" y="24.60" font-size="5.08" fill="#111" stroke="#111" stroke-width="0.152" text-anchor="start" font-weight="normal" >Cabozantinib +/- nivolumab: NR</text>
<line x1="599.2" x2="606.0" y1="30.83" y2="30.83" stroke="#2ca02c" stroke-width="0.65"/>
<path d="M602.6 29.43 L603.7 31.18 L601.5 31.18 Z" fill="#2ca02c"/>
<text x="609.40" y="32.63" font-size="5.08" fill="#111" stroke="#111" stroke-width="0.152" text-anchor="start" font-weight="normal" >Axitinib +/- pembrolizumab: NR</text>
<line x1="599.2" x2="606.0" y1="38.86" y2="38.86" stroke="#1c1ce0" stroke-width="0.65"/>
<path d="M602.6 37.46 L603.7 39.21 L601.5 39.21 Z" fill="#1c1ce0"/>
<text x="609.40" y="40.66" font-size="5.08" fill="#111" stroke="#111" stroke-width="0.152" text-anchor="start" font-weight="normal" >Nivolumab +/- ipilimumab: 2.5 mo</text>
<line x1="599.2" x2="606.0" y1="46.89" y2="46.89" stroke="#ff9522" stroke-width="0.65"/>
<path d="M602.6 45.49 L603.7 47.24 L601.5 47.24 Z" fill="#ff9522"/>
<text x="609.40" y="48.69" font-size="5.08" fill="#111" stroke="#111" stroke-width="0.152" text-anchor="start" font-weight="normal" >Sunitinib or pazopanib: 8 mo</text>
<text x="370.60" y="157.00" font-size="6.2" fill="#111" stroke="#111" stroke-width="0.186" text-anchor="start" font-weight="normal" >Number at risk</text>
<text x="370.60" y="166.60" font-size="5.6" fill="#c8202c" stroke="#c8202c" stroke-width="0.168" text-anchor="start" font-weight="normal" >Cabozantinib +/- nivolumab</text>
<text x="487.20" y="166.70" font-size="5.6" fill="#111" stroke="#111" stroke-width="0.168" text-anchor="middle" font-weight="normal" >15</text>
<text x="549.80" y="166.70" font-size="5.6" fill="#111" stroke="#111" stroke-width="0.168" text-anchor="middle" font-weight="normal" >6</text>
<text x="614.20" y="166.70" font-size="5.6" fill="#111" stroke="#111" stroke-width="0.168" text-anchor="middle" font-weight="normal" >2</text>
<text x="676.40" y="166.70" font-size="5.6" fill="#111" stroke="#111" stroke-width="0.168" text-anchor="middle" font-weight="normal" >1</text>
<text x="370.60" y="173.55" font-size="5.6" fill="#2e8b2e" stroke="#2e8b2e" stroke-width="0.168" text-anchor="start" font-weight="normal" >Axitinib +/- pembrolizumab</text>
<text x="487.20" y="173.65" font-size="5.6" fill="#111" stroke="#111" stroke-width="0.168" text-anchor="middle" font-weight="normal" >10</text>
<text x="549.80" y="173.65" font-size="5.6" fill="#111" stroke="#111" stroke-width="0.168" text-anchor="middle" font-weight="normal" >1</text>
<text x="614.20" y="173.65" font-size="5.6" fill="#111" stroke="#111" stroke-width="0.168" text-anchor="middle" font-weight="normal" >0</text>
<text x="676.40" y="173.65" font-size="5.6" fill="#111" stroke="#111" stroke-width="0.168" text-anchor="middle" font-weight="normal" >0</text>
<text x="370.60" y="180.50" font-size="5.6" fill="#ffa040" stroke="#ffa040" stroke-width="0.168" text-anchor="start" font-weight="normal" >Sunitinib/pazopanib</text>
<text x="487.20" y="180.60" font-size="5.6" fill="#111" stroke="#111" stroke-width="0.168" text-anchor="middle" font-weight="normal" >6</text>
<text x="549.80" y="180.60" font-size="5.6" fill="#111" stroke="#111" stroke-width="0.168" text-anchor="middle" font-weight="normal" >1</text>
<text x="614.20" y="180.60" font-size="5.6" fill="#111" stroke="#111" stroke-width="0.168" text-anchor="middle" font-weight="normal" >0</text>
<text x="676.40" y="180.60" font-size="5.6" fill="#111" stroke="#111" stroke-width="0.168" text-anchor="middle" font-weight="normal" >0</text>
<text x="370.60" y="187.45" font-size="5.6" fill="#1414ee" stroke="#1414ee" stroke-width="0.168" text-anchor="start" font-weight="normal" >Nivolumab +/- ipilimumab</text>
<text x="487.20" y="187.55" font-size="5.6" fill="#111" stroke="#111" stroke-width="0.168" text-anchor="middle" font-weight="normal" >8</text>
<text x="549.80" y="187.55" font-size="5.6" fill="#111" stroke="#111" stroke-width="0.168" text-anchor="middle" font-weight="normal" >2</text>
<text x="614.20" y="187.55" font-size="5.6" fill="#111" stroke="#111" stroke-width="0.168" text-anchor="middle" font-weight="normal" >0</text>
<text x="676.40" y="187.55" font-size="5.6" fill="#111" stroke="#111" stroke-width="0.168" text-anchor="middle" font-weight="normal" >0</text>
</svg>
</body></html>
